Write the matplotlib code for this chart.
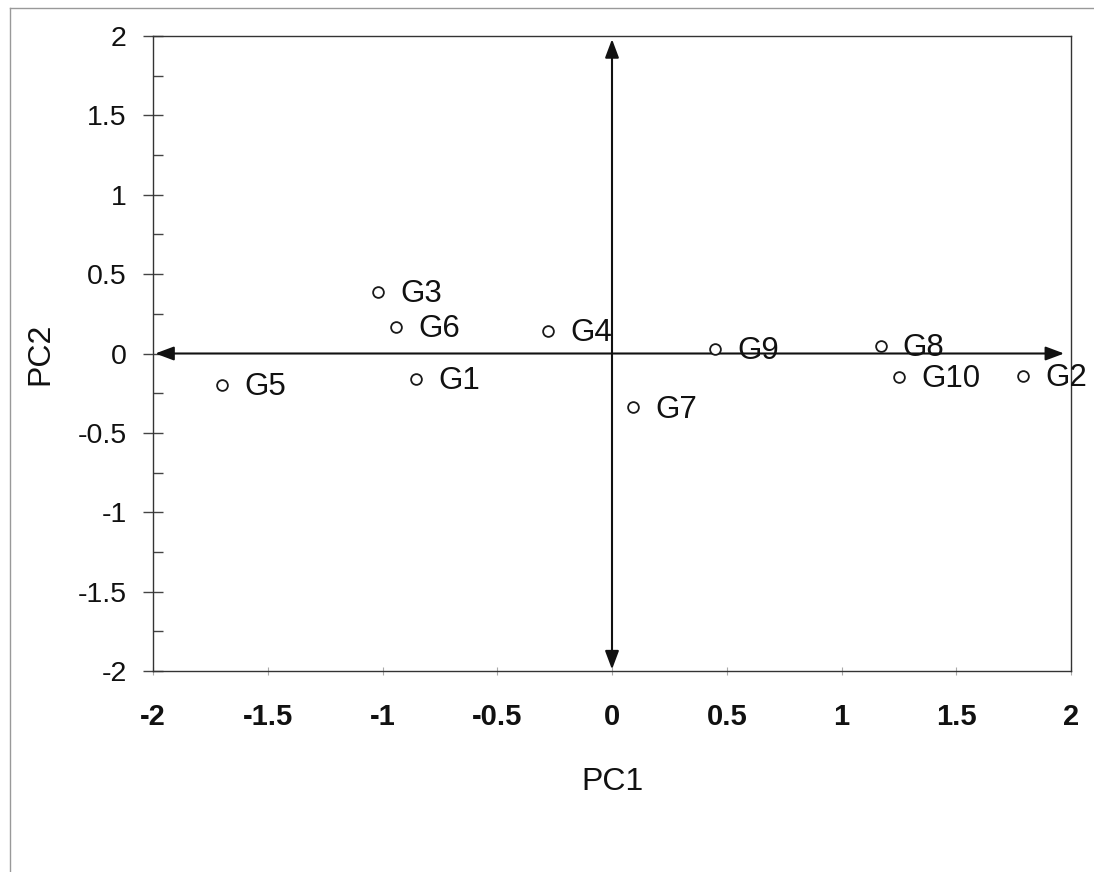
import matplotlib
matplotlib.use("Agg")
import matplotlib.pyplot as plt
from matplotlib.ticker import MultipleLocator
from matplotlib.lines import Line2D

plt.rcParams['font.family'] = ['Liberation Sans', 'DejaVu Sans']

labels = ["G1", "G2", "G3", "G4", "G5", "G6", "G7", "G8", "G9", "G10"]
pc1 = [-0.855, 1.79, -1.02, -0.28, -1.70, -0.94, 0.093, 1.17, 0.45, 1.25]
pc2 = [-0.16, -0.14, 0.39, 0.14, -0.20, 0.17, -0.34, 0.05, 0.03, -0.15]

xticks = [-2, -1.5, -1, -0.5, 0, 0.5, 1, 1.5, 2]
yticks = [-2, -1.5, -1, -0.5, 0, 0.5, 1, 1.5, 2]

fig = plt.figure(figsize=(10.94, 8.72), dpi=100)
ax = fig.add_axes([153/1094, 1 - 671/872, (1071 - 153)/1094, (671 - 36)/872])

ax.set_xlim(-2, 2)
ax.set_ylim(-2, 2)

ax.scatter(pc1, pc2, s=60, facecolors='white', edgecolors='#1a1a1a',
           linewidths=1.3, zorder=3)
for lab, x, y in zip(labels, pc1, pc2):
    ax.annotate(lab, (x, y), xytext=(16, -1.5), textcoords='offset points',
                ha='left', va='center', fontsize=22.5, color='#111111', zorder=4)

arrow_kw = dict(arrowstyle='<|-|>,head_length=0.8,head_width=0.3',
                color='#111111', lw=1.5, mutation_scale=14,
                shrinkA=0, shrinkB=0)
ax.annotate('', xy=(1.97, 0), xytext=(-1.99, 0), arrowprops=arrow_kw, zorder=2)
ax.annotate('', xy=(0, 1.98), xytext=(0, -1.99), arrowprops=arrow_kw, zorder=2)

ax.set_xticks(xticks)
ax.set_yticks(yticks)
ax.set_xticklabels([f"{v:g}" for v in xticks])
ax.set_yticklabels([f"{v:g}" for v in yticks])
ax.yaxis.set_minor_locator(MultipleLocator(0.25))
ax.tick_params(axis='y', which='major', direction='inout', length=14, width=1,
               color='#444444', labelsize=20.5, pad=12, labelcolor='#111111')
ax.tick_params(axis='y', which='minor', direction='in', length=7, width=1,
               color='#444444')
ax.tick_params(axis='x', which='major', direction='inout', length=6, width=0.8,
               color='#aaaaaa', labelsize=21, pad=20, labelcolor='#111111')
for t in ax.get_xticklabels():
    t.set_fontweight('bold')

for sp in ax.spines.values():
    sp.set_color('#333333')
    sp.set_linewidth(1.0)

ax.set_xlabel('PC1', fontsize=23, labelpad=26, color='#111111')
ax.set_ylabel('PC2', fontsize=23, labelpad=16, color='#111111')

# faint scanned page border
fig.add_artist(Line2D([10/1094, 10/1094], [1 - 8/872, 0.0], transform=fig.transFigure,
                      color='#999999', lw=1.0))
fig.add_artist(Line2D([10/1094, 1.0], [1 - 8/872, 1 - 8/872], transform=fig.transFigure,
                      color='#999999', lw=1.0))

fig.savefig('out.png', dpi=100, facecolor='white')
